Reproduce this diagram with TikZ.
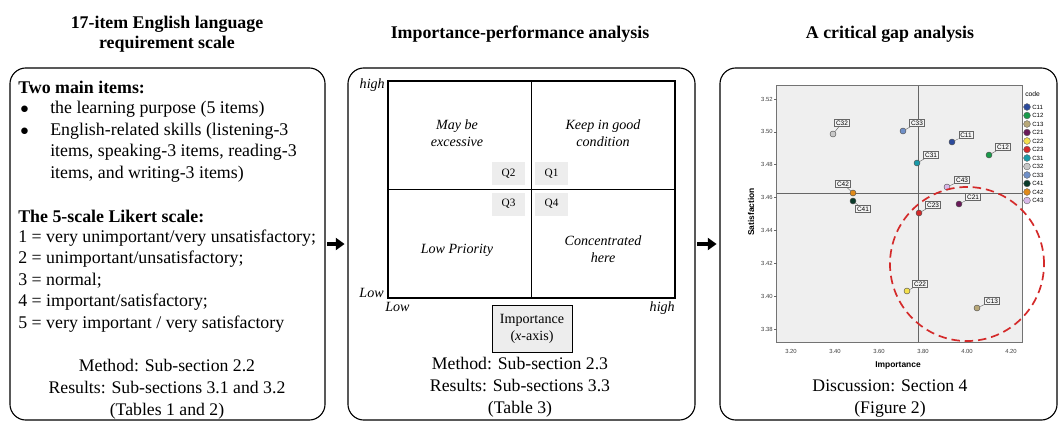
\documentclass[tikz,border=0pt]{standalone}
\usepackage{fontspec}
\setmainfont{Liberation Serif}
\newfontfamily\plotfont{Liberation Sans}
\usetikzlibrary{arrows.meta}
\definecolor{qgray}{HTML}{EDEDED}
\definecolor{plotbg}{HTML}{EFEFEF}
\definecolor{gapred}{HTML}{D42A2A}
\definecolor{colCa}{HTML}{2B4A9C}
\definecolor{colCb}{HTML}{1A9A4A}
\definecolor{colCc}{HTML}{B8A878}
\definecolor{colCd}{HTML}{6A1B5A}
\definecolor{colCe}{HTML}{F4E04D}
\definecolor{colCf}{HTML}{D42A2A}
\definecolor{colCg}{HTML}{1A9AA8}
\definecolor{colCh}{HTML}{C8C8C8}
\definecolor{colCi}{HTML}{7090C8}
\definecolor{colCj}{HTML}{0A3A2A}
\definecolor{colCk}{HTML}{E08A1A}
\definecolor{colCl}{HTML}{D8B8E8}
\begin{document}
\begin{tikzpicture}[x=0.025cm, y=-0.025cm,
  panel/.style={draw, line width=0.8pt, rounded corners=0.4cm, minimum width=#1, minimum height=8.8cm},
  title/.style={anchor=base, align=center, inner sep=0pt, font=\fontsize{12.7}{14.2}\selectfont\bfseries},
  txt/.style={anchor=base west, align=left, inner sep=0pt, font=\fontsize{12.7}{15.2}\selectfont},
  ctxt/.style={anchor=base, align=center, inner sep=0pt, font=\fontsize{12.6}{15.3}\selectfont},
  quadtxt/.style={anchor=base, align=center, inner sep=0pt, font=\fontsize{10}{11.4}\selectfont\itshape},
  qbox/.style={fill=qgray, minimum width=0.825cm, minimum height=0.575cm, inner sep=0pt, font=\fontsize{8}{9}\selectfont},
  pt/.style={circle, draw=black!70, line width=0.3pt, minimum size=0.15cm, inner sep=0pt},
  lab/.style={draw=black!60, fill=white!92!gray, line width=0.4pt, inner sep=1pt, font=\plotfont\fontsize{4.6}{5}\selectfont},
  lk/.style={draw=black!60, line width=0.3pt},
  legdot/.style={circle, draw=black!60, line width=0.3pt, minimum size=0.17cm, inner sep=0pt},
  legtxt/.style={anchor=west, inner sep=0pt, font=\plotfont\fontsize{4.3}{5}\selectfont},
  tick/.style={inner sep=0pt, text=black!75, font=\plotfont\fontsize{4.2}{5}\selectfont},
  flow/.style={-{Triangle[length=0.22cm, width=0.3cm]}, line width=2.2pt, shorten <=1pt, shorten >=2pt}]
\useasboundingbox (0,0) rectangle (1058,423);
\node (t1) [title] at (167,48) {17-item English language\\requirement scale};
\node (t2) [title] at (520,38) {Importance-performance analysis};
\node (t3) [title] at (890,38) {A critical gap analysis};
\node (lbox) [panel=7.875cm] at (167.5,244) {};
\node (mbox) [panel=8.675cm] at (521.5,244) {};
\node (rbox) [panel=8.425cm] at (888.5,244) {};
\draw[flow] (lbox) -- (mbox);
\draw[flow] (mbox) -- (rbox);
\node (items) [txt] at (18,93) {\textbf{Two main items:}};
\node (d1) [txt] at (20,113) {$\bullet$};
\node (i1) [txt] at (50,113) {the learning purpose (5 items)};
\node (d2) [txt] at (20,135) {$\bullet$};
\node (i2) [txt] at (50,178) {English-related skills (listening-3\\items, speaking-3 items, reading-3\\items, and writing-3 items)};
\node (likert) [txt] at (18,222) {\textbf{The 5-scale Likert scale:}};
\node (scale) [txt] at (18,328) {1 = very unimportant/very unsatisfactory;\\2 = unimportant/unsatisfactory;\\3 = normal;\\4 = important/satisfactory;\\5 = very important / very satisfactory};
\node (lref) [ctxt] at (167,415) {Method: Sub-section 2.2\\Results: Sub-sections 3.1 and 3.2\\(Tables 1 and 2)};
\node (quad) [draw, line width=1pt, minimum width=7.175cm, minimum height=5.425cm] at (531.5,189.5) {};
\draw[line width=1pt] (quad.north) -- (quad.south);
\draw[line width=1pt] (quad.west) -- (quad.east);
\node (hy) [quadtxt, anchor=base east] at (385,88) {high};
\node (ly) [quadtxt, anchor=base east] at (384,297) {Low};
\node (lx) [quadtxt, anchor=base west] at (385,311) {Low};
\node (hx) [quadtxt, anchor=base east] at (675,311) {high};
\node (qa) [quadtxt] at (457,146) {May be\\excessive};
\node (qb) [quadtxt] at (603,146) {Keep in good\\condition};
\node (qc) [quadtxt] at (457,253) {Low Priority};
\node (qd) [quadtxt] at (603,262) {Concentrated\\here};
\node (q2) [qbox] at (508.5,173.5) {Q2};
\node (q1) [qbox] at (551.5,173.5) {Q1};
\node (q3) [qbox] at (508.5,204) {Q3};
\node (q4) [qbox] at (551.5,204) {Q4};
\node (imp) [draw, fill=qgray, line width=0.7pt, minimum width=2cm, minimum height=1.175cm, align=center, inner sep=0pt, font=\fontsize{10}{12}\selectfont] at (532,328.5) {Importance\\(\textit{x}-axis)};
\node (mref) [ctxt] at (520,413) {Method: Sub-section 2.3\\Results: Sub-sections 3.3\\(Table 3)};
\node (plot) [draw=black!55, fill=plotbg, line width=0.7pt, minimum width=6.125cm, minimum height=6.4cm] at (899.5,214) {};
\draw[black!60, line width=0.6pt] (918,86) -- (918,342);
\draw[black!60, line width=0.6pt] (777,193) -- (1022,193);
\draw[black!60, line width=0.4pt] (774,99) -- (777,99) (774,131.9) -- (777,131.9) (774,164.7) -- (777,164.7) (774,197.6) -- (777,197.6) (774,230.4) -- (777,230.4) (774,263.3) -- (777,263.3) (774,296.1) -- (777,296.1) (774,329) -- (777,329);
\node (y52) [tick, anchor=east] at (773,99) {3.52};
\node (y50) [tick, anchor=east] at (773,131.9) {3.50};
\node (y48) [tick, anchor=east] at (773,164.7) {3.48};
\node (y46) [tick, anchor=east] at (773,197.6) {3.46};
\node (y44) [tick, anchor=east] at (773,230.4) {3.44};
\node (y42) [tick, anchor=east] at (773,263.3) {3.42};
\node (y40) [tick, anchor=east] at (773,296.1) {3.40};
\node (y38) [tick, anchor=east] at (773,329) {3.38};
\node (x320) [tick] at (791,351) {3.20};
\node (x340) [tick] at (835,351) {3.40};
\node (x360) [tick] at (879,351) {3.60};
\node (x380) [tick] at (923,351) {3.80};
\node (x400) [tick] at (967,351) {4.00};
\node (x420) [tick] at (1011,351) {4.20};
\node (ytitle) [rotate=90, inner sep=0pt, font=\plotfont\fontsize{6}{7}\selectfont\bfseries] at (751,212) {Satisfaction};
\node (xtitle) [inner sep=0pt, font=\plotfont\fontsize{6}{7}\selectfont\bfseries] at (898,365) {Importance};
\node (c32) [pt, fill=colCh] at (833,134) {};
\node (c33) [pt, fill=colCi] at (903,131) {};
\node (c11) [pt, fill=colCa] at (952,142) {};
\node (c12) [pt, fill=colCb] at (989,155) {};
\node (c31) [pt, fill=colCg] at (917,163) {};
\node (c43) [pt, fill=colCl] at (947,187) {};
\node (c42) [pt, fill=colCk] at (853,193) {};
\node (c41) [pt, fill=colCj] at (853,201) {};
\node (c21) [pt, fill=colCd] at (959,204) {};
\node (c23) [pt, fill=colCf] at (919,213) {};
\node (c22) [pt, fill=colCe] at (907,291) {};
\node (c13) [pt, fill=colCc] at (977,308) {};
\node (l32) [lab] at (842,123) {C32};
\node (l33) [lab] at (917,123) {C33};
\node (l11) [lab] at (966,135) {C11};
\node (l12) [lab] at (1003,147) {C12};
\node (l31) [lab] at (931,155) {C31};
\node (l43) [lab] at (962,180) {C43};
\node (l42) [lab] at (843,184) {C42};
\node (l41) [lab] at (863,209) {C41};
\node (l21) [lab] at (973,197) {C21};
\node (l23) [lab] at (933,205) {C23};
\node (l22) [lab] at (920,284) {C22};
\node (l13) [lab] at (992,301) {C13};
\draw[lk] (c32) -- (l32);
\draw[lk] (c33) -- (l33);
\draw[lk] (c11) -- (l11);
\draw[lk] (c12) -- (l12);
\draw[lk] (c31) -- (l31);
\draw[lk] (c43) -- (l43);
\draw[lk] (c42) -- (l42);
\draw[lk] (c41) -- (l41);
\draw[lk] (c21) -- (l21);
\draw[lk] (c23) -- (l23);
\draw[lk] (c22) -- (l22);
\draw[lk] (c13) -- (l13);
\draw[gapred, line width=1.2pt, dash pattern=on 6pt off 3.5pt] (967,264) circle [radius=1.925cm];
\node (code) [legtxt, anchor=base west, font=\plotfont\fontsize{4.8}{5}\selectfont] at (1025,96) {code};
\node (g11) [legdot, fill=colCa] at (1027,107) {};
\node (g12) [legdot, fill=colCb] at (1027,115.5) {};
\node (g13) [legdot, fill=colCc] at (1027,124) {};
\node (g21) [legdot, fill=colCd] at (1027,132.5) {};
\node (g22) [legdot, fill=colCe] at (1027,141) {};
\node (g23) [legdot, fill=colCf] at (1027,149.5) {};
\node (g31) [legdot, fill=colCg] at (1027,158) {};
\node (g32) [legdot, fill=colCh] at (1027,166.5) {};
\node (g33) [legdot, fill=colCi] at (1027,175) {};
\node (g41) [legdot, fill=colCj] at (1027,183.5) {};
\node (g42) [legdot, fill=colCk] at (1027,192) {};
\node (g43) [legdot, fill=colCl] at (1027,200.5) {};
\node (n11) [legtxt] at (1032,107) {C11};
\node (n12) [legtxt] at (1032,115.5) {C12};
\node (n13) [legtxt] at (1032,124) {C13};
\node (n21) [legtxt] at (1032,132.5) {C21};
\node (n22) [legtxt] at (1032,141) {C22};
\node (n23) [legtxt] at (1032,149.5) {C23};
\node (n31) [legtxt] at (1032,158) {C31};
\node (n32) [legtxt] at (1032,166.5) {C32};
\node (n33) [legtxt] at (1032,175) {C33};
\node (n41) [legtxt] at (1032,183.5) {C41};
\node (n42) [legtxt] at (1032,192) {C42};
\node (n43) [legtxt] at (1032,200.5) {C43};
\node (rref) [ctxt] at (890,413) {Discussion: Section 4\\(Figure 2)};
\end{tikzpicture}
\end{document}
